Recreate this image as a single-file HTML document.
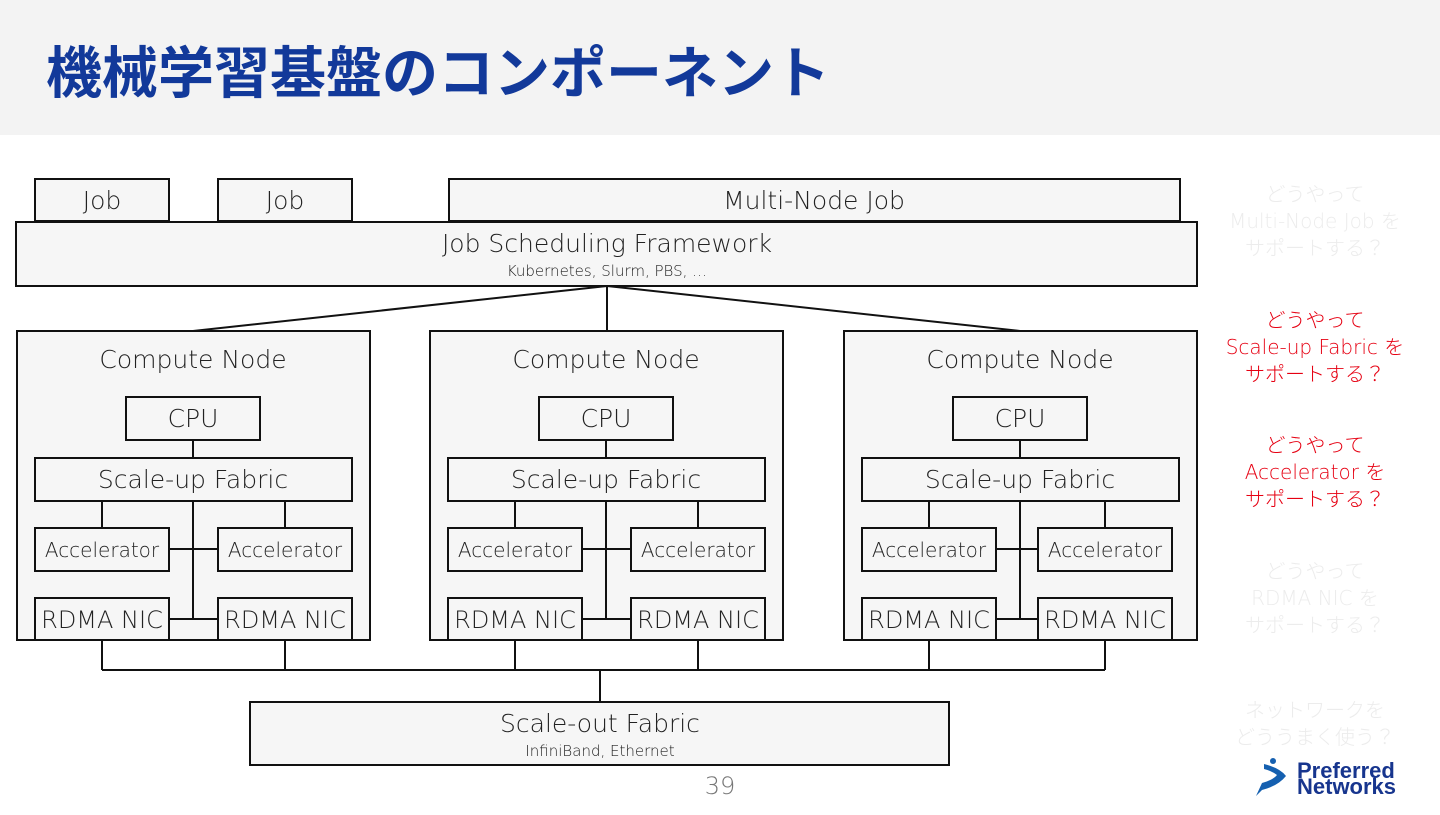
<!DOCTYPE html>
<html><head><meta charset="utf-8"><style>
body{margin:0;width:1440px;height:810px;background:#fff;overflow:hidden;font-family:"Liberation Sans","Noto Sans CJK JP",sans-serif}
svg text{font-family:"DejaVu Sans","Noto Sans CJK JP",sans-serif;font-weight:300}
</style></head><body>
<svg width="1440" height="810" xmlns="http://www.w3.org/2000/svg">
<rect x="0" y="0" width="1440" height="135" fill="#f3f3f3"/>
<text x="46" y="93" font-size="56" fill="#12399a" style="font-family:'Noto Sans CJK JP',sans-serif;font-weight:700">機械学習基盤のコンポーネント</text>
<g fill="#f6f6f6" stroke="#111" stroke-width="2">
<rect x="35" y="179" width="134" height="42"/><rect x="218" y="179" width="134" height="42"/><rect x="449" y="179" width="731" height="42"/>
<rect x="16" y="222" width="1181" height="64"/>
<rect x="250" y="702" width="699" height="63"/>
</g>
<g font-size="25" fill="#222" text-anchor="middle">
<text x="102" y="209">Job</text><text x="285" y="209">Job</text><text x="814" y="209">Multi-Node Job</text>
<text x="607" y="252">Job Scheduling Framework</text>
<text x="600" y="732">Scale-out Fabric</text>
</g>
<g font-size="15" fill="#222" text-anchor="middle">
<text x="607" y="276">Kubernetes, Slurm, PBS, …</text>
<text x="600" y="756">InfiniBand, Ethernet</text>
</g>
<g stroke="#111" stroke-width="2" fill="none">
<path d="M607 286L193 331M607 286V331M607 286L1020 331"/>
<path d="M102 640V670M285 640V670M515 640V670M698 640V670M929 640V670M1105 640V670M102 670H1105M600 670V702"/>
</g>
<defs><g id="node">
<rect x="0" y="0" width="353" height="309" fill="#f6f6f6" stroke="#111" stroke-width="2"/>
<text x="176" y="37" font-size="25" fill="#222" text-anchor="middle">Compute Node</text>
<g stroke="#111" stroke-width="2" fill="none">
<path d="M176 109V127M176 170V288"/>
</g>
<rect x="109" y="66" width="134" height="43" fill="#f6f6f6" stroke="#111" stroke-width="2"/>
<rect x="18" y="127" width="317" height="43" fill="#f6f6f6" stroke="#111" stroke-width="2"/>
<text x="176" y="96" font-size="25" fill="#222" text-anchor="middle">CPU</text>
<text x="176" y="157" font-size="25" fill="#222" text-anchor="middle">Scale-up Fabric</text>
</g></defs>
<g transform="translate(17,331)"><use href="#node"/>
<path d="M85 170V197M268 170V197M152 218H201M152 288H201" stroke="#111" stroke-width="2"/>
<g fill="#f6f6f6" stroke="#111" stroke-width="2"><rect x="18" y="197" width="134" height="43"/><rect x="201" y="197" width="134" height="43"/><rect x="18" y="267" width="134" height="42"/><rect x="201" y="267" width="134" height="42"/></g>
<g font-size="20" fill="#222" text-anchor="middle"><text x="85" y="226">Accelerator</text><text x="268" y="226">Accelerator</text></g>
<g font-size="24" fill="#222" text-anchor="middle"><text x="85" y="297">RDMA NIC</text><text x="268" y="297">RDMA NIC</text></g>
</g>
<g transform="translate(430,331)"><use href="#node"/>
<path d="M85 170V197M268 170V197M152 218H201M152 288H201" stroke="#111" stroke-width="2"/>
<g fill="#f6f6f6" stroke="#111" stroke-width="2"><rect x="18" y="197" width="134" height="43"/><rect x="201" y="197" width="134" height="43"/><rect x="18" y="267" width="134" height="42"/><rect x="201" y="267" width="134" height="42"/></g>
<g font-size="20" fill="#222" text-anchor="middle"><text x="85" y="226">Accelerator</text><text x="268" y="226">Accelerator</text></g>
<g font-size="24" fill="#222" text-anchor="middle"><text x="85" y="297">RDMA NIC</text><text x="268" y="297">RDMA NIC</text></g>
</g>
<g transform="translate(844,331)"><use href="#node"/>
<path d="M85 170V197M261 170V197M152 218H194M152 288H194" stroke="#111" stroke-width="2"/>
<g fill="#f6f6f6" stroke="#111" stroke-width="2"><rect x="18" y="197" width="134" height="43"/><rect x="194" y="197" width="134" height="43"/><rect x="18" y="267" width="134" height="42"/><rect x="194" y="267" width="134" height="42"/></g>
<g font-size="20" fill="#222" text-anchor="middle"><text x="85" y="226">Accelerator</text><text x="261" y="226">Accelerator</text></g>
<g font-size="24" fill="#222" text-anchor="middle"><text x="85" y="297">RDMA NIC</text><text x="261" y="297">RDMA NIC</text></g>
</g>
<g font-size="20" text-anchor="middle" style="font-family:'Noto Sans CJK JP',sans-serif">
<g fill="#ececec"><text x="1315" y="201">どうやって</text><text x="1315" y="228">Multi-Node Job を</text><text x="1315" y="255">サポートする？</text></g>
<g fill="#e60012"><text x="1315" y="327">どうやって</text><text x="1315" y="354">Scale-up Fabric を</text><text x="1315" y="381">サポートする？</text>
<text x="1315" y="452">どうやって</text><text x="1315" y="479">Accelerator を</text><text x="1315" y="506">サポートする？</text></g>
<g fill="#ececec"><text x="1315" y="578">どうやって</text><text x="1315" y="605">RDMA NIC を</text><text x="1315" y="632">サポートする？</text>
<text x="1315" y="717">ネットワークを</text><text x="1315" y="744">どううまく使う？</text></g>
</g>
<text x="720" y="794" font-size="24" fill="#777" text-anchor="middle">39</text>
<path d="M1264 764 q16 4 22 12 q-8 10 -24 14 l-6 6 6-13 q11-3 15-8 q-5-4-13-6z" fill="#1560b0"/>
<circle cx="1273" cy="761" r="3" fill="#1560b0"/>
<text x="1297" y="778" font-size="22" fill="#17358e" style="font-family:'Liberation Sans',sans-serif;font-weight:700">Preferred</text>
<text x="1297" y="794" font-size="22" fill="#17358e" style="font-family:'Liberation Sans',sans-serif;font-weight:700">Networks</text>
</svg>
</body></html>
